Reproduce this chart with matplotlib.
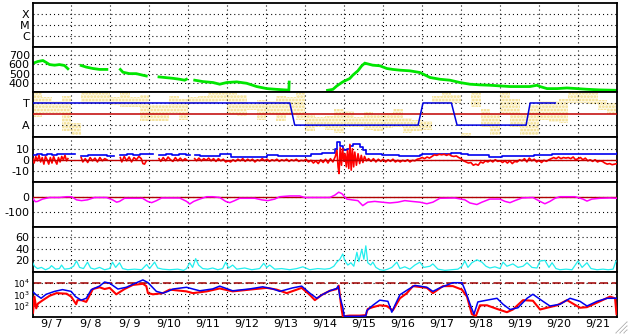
import numpy as np
import matplotlib
matplotlib.use("Agg")
import matplotlib.pyplot as plt
from matplotlib.lines import Line2D
from matplotlib.ticker import NullLocator, FixedLocator

nan = np.nan
plt.rcParams['font.family'] = ['DejaVu Sans']
plt.rcParams['lines.scale_dashes'] = False
plt.rcParams['axes.unicode_minus'] = False
plt.rcParams['hatch.linewidth'] = 1.2

# ---------------- data (time in hours from 9/7 00:00) ----------------
day_labels = ["9/ 7", "9/ 8", "9/ 9", "9/10", "9/11", "9/12", "9/13", "9/14",
              "9/15", "9/16", "9/17", "9/18", "9/19", "9/20", "9/21"]
xray_labels = ["C", "M", "X"]
sector_labels = ["A", "T"]

# solar wind speed (km/s)
speed_pts = [(0.2, 610), (3.3, 630), (6.4, 640), (8.4, 620), (10.5, 597), (13.6, 590),
             (16.6, 597), (19.7, 587), (21.8, 552), (26, nan),
             (30.0, 587), (33.1, 570), (37.2, 555), (41.3, 545), (45.8, 545), (50, nan),
             (54.1, 545), (55.7, 515), (59.8, 500), (63.9, 500), (68.0, 483), (70.1, 475), (74, nan),
             (77.9, 465), (82.4, 457), (86.5, 450), (90.6, 440), (93.7, 430), (94.8, 440), (97, nan),
             (99.9, 430), (105.0, 415), (111.2, 405), (115.3, 387), (119.6, 405), (125.8, 412),
             (131.9, 397), (138.1, 362), (144.3, 340), (150.4, 332), (156.6, 325), (157.9, 325),
             (158.1, 410), (170, nan),
             (181.7, 322), (185.0, 332), (187.4, 368), (191.1, 412), (195.4, 448), (197.3, 484),
             (200.4, 530), (202.8, 584), (204.7, 612), (209.6, 590), (213.9, 584), (218.2, 555),
             (221.9, 545), (226.3, 537), (232.4, 530), (238.6, 512), (244.8, 459), (250.9, 440),
             (257.1, 430), (263.3, 405), (269.4, 387), (275.6, 380), (281.7, 376), (287.9, 369),
             (294.1, 362), (300.2, 362), (306.4, 362), (310.7, 376), (312.6, 362), (316.9, 340),
             (323.1, 340), (329.2, 347), (335.4, 340), (341.5, 333), (349.5, 326), (360, 322)]

# sector polarity (T=1, A=-1)
sector_pts = [(0, 1), (158.5, 1), (161.5, -1), (237.5, -1), (240.5, 1), (258.0, 1),
              (261.5, -1), (304.0, -1), (306.5, 1), (322.0, 1)]

# yellow scatter band (6-hour bins): lower / upper envelope
yellow_lo = [-0.3, 0.1, 0.1, -1.5, -1.9, 0.9, 0.9, 1.0, 0.8, 0.6, 0.6, -0.6,
             -0.6, -0.6, 0.1, -0.5, 0.9, 1.0, 1.0, 1.2, 0.0, -0.2, 0.4, -0.5,
             0.0, -0.6, 0.0, -0.5, -1.5, -1.2, -1.4, -1.7, -1.2, -1.2, -1.4, -1.5,
             -1.3, -1.2, -1.7, -1.5, -1.4, 0.9, 1.0, 1.0, -2.0, 0.6, -1.2, -1.9,
             0.0, -1.2, -1.9, -1.9, -0.5, -0.7, -0.8, 1.0, 1.0, 0.9, 0.4, 0.0]
yellow_hi = [2.0, 1.5, 1.2, 1.6, -0.8, 2.0, 2.0, 1.9, 1.5, 2.0, 1.5, 1.7,
             0.8, 0.8, 1.6, 1.4, 1.5, 1.6, 1.9, 2.0, 1.9, 1.7, 0.9, 1.3,
             1.2, 1.6, 1.5, 1.9, 0.0, -0.3, -0.2, 0.5, 0.3, -0.3, 0.2, -0.1,
             0.1, 0.5, -0.4, -0.5, -0.6, 1.6, 1.9, 1.7, -1.7, 1.9, 0.5, 0.0,
             2.0, 1.4, 0.0, 0.8, 1.2, 1.2, 1.4, 2.0, 1.9, 1.9, 1.3, 1.0]

# IMF Bt (nT)
bt_pts = [(0.2, 4.5), (3, 5), (6, 4.5), (9, 5), (12, 4.5), (15, 5), (18, 5.5), (21.8, 5.5), (26, nan),
          (30, 3.5), (34, 4), (38, 4), (42, 4), (45.8, 3.5), (50, nan),
          (54.1, 4), (58, 5), (62, 4.5), (66, 5), (70.1, 5), (74, nan),
          (77.9, 4), (82, 5), (86, 4.5), (90, 5), (94.8, 4), (97, nan),
          (99.9, 4), (103, 3.2), (114, 3.2), (115.5, 5), (121, 5), (122.5, 2.6), (143, 2.6),
          (144.5, 4), (150, 4), (151, 3.2), (170, 3.2), (171.5, 5), (177, 5), (178, 6.5),
          (185, 6.5), (186.5, 10), (187.7, 16), (189.3, 13), (191.4, 8.6), (193.4, 10),
          (195.5, 13), (197.5, 14.7), (199.6, 14.7), (201.6, 11.6), (203.7, 8.6), (205.7, 5.6),
          (213.9, 5), (215, 4), (226, 3.5), (238.6, 4), (240, 5), (246.8, 5), (248, 5.6),
          (257, 5.6), (258, 6.5), (263, 6.5), (264, 5.6), (267, 5.6), (268, 4), (280, 4),
          (281, 2.6), (288, 2.6), (289, 3.5), (308, 3.5), (309, 4), (319, 4), (320, 5),
          (350, 5), (351, 5.6), (360, 6)]

# IMF Bz (nT)
bz_pts = [(0.2, 1), (1, -3), (2, 3), (3, -1), (4, 4), (5, -2), (6, 2), (7, -4), (8, 3), (9, 0),
          (10, -4), (11, 2), (12, -3), (13, 3), (14, -1), (15, -4), (16, 2), (17, -2), (18, 3),
          (19, 0), (20, 4), (21, -1), (21.8, 1), (26, nan),
          (30, 2), (31, -2), (32.5, 1), (34, -2.5), (35.5, 2), (37, -1), (38.5, 1.5), (40, -2),
          (41.5, 2), (43, -1), (44.5, 1), (45.8, 0), (50, nan),
          (54.1, 2), (55, -2), (56.5, 3), (58, -1), (59.5, 2.5), (61, -2), (62.5, 2), (64, 0),
          (65.5, 3), (67, 1), (68, -3.5), (69, -4), (70.1, -1), (74, nan),
          (77.9, 1), (79, -1.5), (80.5, 2), (82, -1), (83.5, 2.5), (85, 0), (86.5, -1.5), (88, 2),
          (89.5, -1), (91, 1.5), (92.5, -1), (94, 1), (94.8, 0), (97, nan),
          (99.9, 1), (101, -1), (102.5, 1.5), (104, -1), (105.5, 1), (107, -0.5), (108.5, 1.5),
          (110, -1), (111.5, 1), (113, -1.5), (114.5, 1), (116, -1), (117.5, 0.5), (119, -2),
          (120.5, -1), (122, -2), (123.5, 0), (125, -1.5), (126.5, 0.5), (128, -1), (129.5, 1),
          (131, -1.5), (132.5, 0.5), (134, -1), (135.5, 0.5), (137, -2), (138.5, 0), (140, -1),
          (141.5, 1), (143, -1), (144.5, 0.5), (146, -1.5), (147.5, 0), (149, -1), (150.5, 0.5),
          (152, -1.5), (153.5, 0), (155, -1), (156.5, 0.5), (158, -1.5), (159.5, 0), (161, -1),
          (162.5, 0.5), (164, -1.5), (165.5, -0.5), (167, -1), (168.5, 0.5), (170, -2),
          (171.5, -0.5), (173, -3), (174.5, -1), (176, -3.5), (177.5, 0), (179, -2.5),
          (180.5, 0.5), (182, -3), (183.5, 1), (185, -2), (186.5, 3),
          (187.5, 8.6), (188.2, -6.5), (188.8, -12.6), (189.5, 11), (190.3, -5), (191, 10),
          (191.8, -1.5), (192.5, 5.5), (193.3, -6.5), (194, 8.5), (194.8, -8), (195.5, 14),
          (196.3, -9.5), (197, 10), (197.8, -6.5), (198.5, 7), (199.5, -5), (200.5, 5.5),
          (201.5, -3.5), (202.5, 4), (203.5, -2.5), (204.5, 3), (205.7, -1),
          (207, 1), (208.5, -1.5), (210, 1), (211.5, -2), (213, 0.5), (214.5, -1.5), (216, 0.5),
          (217.5, -2), (219, 0), (220.5, -1.5), (222, 0.5), (223.5, -2), (225, -0.5), (226.5, -2),
          (228, -0.5), (229.5, -1.5), (231, 0), (232.5, -2), (234, -0.5), (235.5, -1), (237, 0.5),
          (238.5, 1), (240, 2), (241.5, 1), (243, 2.5), (244.5, 1.5), (246, 3), (247.5, 4.5),
          (249, 4), (250.5, 5), (252, 4.5), (253.5, 5), (255, 4), (256.5, 5), (258, 3.5),
          (259.5, 3), (261, 3.5), (262.5, 2), (264, 1), (265.5, -1), (267, -2), (268.5, -3),
          (270, -2.5), (271.5, -5), (273, -4), (274.5, -5), (276, -2), (277.5, -3), (279, -1),
          (280.5, -2), (282, -0.5), (283.5, -2), (285, 0), (286.5, -1.5), (288, -1), (289.5, -2.5),
          (291, -1), (292.5, -3), (294, -1), (295.5, -3.5), (297, -1.5), (298.5, -2), (300, 0),
          (301.5, -1), (303, 1), (304.5, -2), (306, 1.5), (307.5, -1), (309, 0.5), (310.5, -2),
          (312, -0.5), (313.5, -2.5), (315, -0.5), (316.5, -1.5), (318, 0), (319.5, 1), (321, 2),
          (322.5, 1), (324, 2.5), (325.5, 1), (327, 2), (328.5, 1.5), (330, 2), (331.5, 1),
          (333, 2.5), (334.5, 0), (336, 1), (337.5, 2), (339, 0), (340.5, 1.5), (342, -1),
          (343.5, 0), (345, -1.5), (346.5, 0), (348, -2), (349.5, -1), (351, -1.5), (352.5, -3),
          (354, -4), (355.5, -3.5), (357, -4.5), (358.5, -4), (360, -3.5)]

# Dst (nT)
dst_pts = [(0, -10), (1.8, -32), (3.1, -30), (6.2, -15), (10.5, -5), (16.6, -5), (21, 0), (24, 0),
           (27.1, -20), (30.2, -25), (33.9, -20), (38.2, -5), (45.6, -5), (49.3, -20), (51.8, -35),
           (53.6, -30), (56.7, -10), (67.8, -10), (70.9, -30), (73.4, -38), (76.4, -25), (79.5, -8),
           (90.6, -8), (94.9, -30), (96.8, -47), (99.3, -30), (103, -15), (107.3, 0), (111, 0),
           (115.3, -5), (119, -30), (121.5, -38), (124.5, -25), (127.6, -10), (136.9, -10),
           (141.2, -20), (144.9, -25), (149.2, -15), (152.3, 0), (158.4, 5), (164.6, 5),
           (167.7, -5), (183.1, -5), (186.2, 10), (188.6, 29), (190.5, 20), (193.6, -15),
           (196.7, -20), (200.4, -25), (203.4, -57), (206.5, -35), (210.8, -30), (215.2, -35),
           (220.1, -40), (225, -35), (229.3, -25), (233.6, -30), (238.6, -35), (242.9, -45),
           (246.6, -35), (250.9, -10), (260.2, -8), (266.3, -20), (269.4, -40), (273.7, -50),
           (276.8, -35), (281.7, -15), (287.9, -15), (291, -30), (294.1, -38), (297.1, -25),
           (301.5, -8), (308.2, -5), (312.6, -30), (315.6, -45), (318.7, -30), (321.8, -10),
           (324.9, 0), (334.1, 0), (339, -15), (341.5, -28), (344.6, -15), (349.5, -10),
           (355.7, -8), (360, -10)]

# proton density (/cc)
dens_pts = [(0, 17), (1.2, 10), (3.1, 6), (5.5, 8), (8, 4), (10.5, 7), (11.7, 11), (14.2, 5),
            (16.6, 6), (17.9, 12), (19.7, 5), (22.8, 6), (25.3, 10), (27.1, 19), (29, 8), (31.4, 6),
            (33.9, 17), (35.8, 7), (38.2, 5), (41.3, 8), (44.4, 4), (47.5, 6), (49.3, 17), (51.2, 8),
            (53.6, 16), (55.5, 6), (58.6, 4), (62.9, 5), (67.2, 4), (70.3, 13), (72.1, 6), (75.2, 17),
            (77.1, 7), (80.1, 5), (84.5, 4), (89.4, 5), (93.1, 3), (94.9, 6), (96.8, 16), (98.6, 8),
            (100.5, 23), (102.3, 12), (104.8, 6), (107.9, 5), (111, 7), (114.1, 4), (117.1, 6),
            (119, 17), (120.8, 7), (123.3, 12), (125.8, 5), (130.7, 7), (135, 4), (139.9, 6),
            (142.4, 15), (144.3, 8), (146.1, 12), (149.2, 5), (153.5, 6), (158.4, 4), (162.8, 6),
            (166.5, 9), (170.8, 4), (175.7, 6), (180, 5), (183.1, 6), (185.6, 10), (187.4, 17),
            (189.3, 22), (191.1, 31), (192.3, 20), (194.2, 12), (196.1, 16), (197.9, 10),
            (199.8, 34), (201, 18), (202.8, 39), (204.1, 22), (205.3, 45), (206.5, 16), (208.3, 12),
            (209.6, 17), (211.5, 8), (213.9, 4), (216.4, 3), (218.8, 5), (221.3, 8), (224.4, 17),
            (226.3, 6), (229.3, 9), (232.4, 5), (235.5, 12), (238.6, 17), (241, 8), (244.8, 10),
            (246.6, 14), (249.7, 5), (254, 3), (258.3, 4), (262, 5), (264.5, 10), (266.3, 19),
            (268.2, 8), (270.6, 16), (273.7, 21), (276.8, 17), (279.3, 10), (281.7, 7), (284.8, 9),
            (287.9, 6), (289.8, 17), (292.2, 10), (295.9, 14), (299, 8), (302.1, 10), (304.6, 16),
            (307.6, 8), (310.7, 7), (312.6, 19), (315.6, 20), (318.1, 8), (320, 16), (322.4, 6),
            (324.9, 4), (328.6, 5), (332.3, 4), (336, 19), (338.5, 8), (341.5, 16), (344, 6),
            (347.7, 4), (351.4, 5), (354.5, 4), (357.6, 5), (359.4, 19)]

# particle flux, log10 values (blue and red channels)
flux_blue_log = [(0, 3.25), (2.3, 2.95), (5.3, 2.66), (8.4, 3.0), (13.6, 3.25), (18.5, 3.4),
                 (23.8, 3.25), (26.5, 2.8), (30, 2.5), (33.1, 2.66), (36.2, 3.4), (41.3, 3.7),
                 (44.4, 4.05), (47.5, 3.95), (52.6, 3.45), (57.8, 3.6), (63.9, 3.98), (68, 4.23),
                 (71.1, 4.0), (76.3, 3.25), (80.3, 3.1), (83.4, 3.25), (86.5, 3.45), (94.8, 3.6),
                 (103, 3.3), (111, 3.46), (115.3, 3.7), (123.3, 3.3), (133.8, 3.46), (141.8, 3.64),
                 (148, 3.46), (152.3, 3.25), (160.3, 3.55), (165.8, 3.7), (170.8, 3.1), (175.1, 2.66),
                 (178.2, 2.95), (183.1, 3.3), (187.4, 3.5), (188.3, 3.7), (189.3, 2.8), (191.1, 1.9),
                 (192, 1.12), (195.4, 1.12), (201.6, 1.12), (205.3, 1.15), (205.9, 1.6), (209.6, 2.06),
                 (213.9, 2.5), (218.9, 2.4), (221.3, 1.47), (223.2, 2.06), (226.3, 2.96), (231.2, 3.4),
                 (235.5, 3.76), (238.6, 3.7), (242.9, 3.6), (246.6, 3.25), (250.9, 3.55), (258.9, 3.99),
                 (264.5, 3.99), (266.3, 3.4), (269.4, 2.2), (271.9, 1.3), (274.3, 2.35), (279.9, 2.5),
                 (286.1, 2.66), (289.8, 2.15), (294.1, 1.7), (299, 1.85), (304.6, 2.66), (308.2, 3.0),
                 (314.4, 2.4), (318.7, 2.0), (324.9, 2.15), (331.1, 2.66), (337.2, 2.4), (341.5, 2.0),
                 (347.7, 2.4), (353.9, 2.66), (360, 2.66)]
flux_red_log = [(0, 2.6), (0.3, 1.4), (1.2, 2.8), (2.3, 1.8), (3.3, 2.2), (6.4, 2.5), (10.5, 2.87),
                (14.8, 3.1), (21, 3.05), (23.8, 2.8), (26.9, 2.15), (27.7, 2.5), (30, 2.5), (33.1, 2.35),
                (37.2, 3.45), (41.3, 3.6), (44.4, 3.45), (47.5, 3.55), (51.6, 3.0), (56.7, 3.45),
                (61.8, 3.8), (68, 3.9), (70.1, 3.7), (71.1, 3.1), (74.2, 3.0), (80.3, 3.1), (84.5, 3.4),
                (94.8, 3.25), (98.8, 3.1), (107.3, 3.25), (115.3, 3.5), (123.3, 3.25), (133.8, 3.4),
                (144.3, 3.55), (150.4, 3.4), (156.6, 3.1), (162.8, 3.4), (165.8, 3.55), (170.8, 2.95),
                (173.9, 2.5), (178.2, 2.95), (183.1, 3.3), (187.4, 3.45), (188.6, 3.75), (190.2, 1.9),
                (191.1, 1.12), (195.4, 1.18), (201.6, 1.18), (205.3, 1.22), (206.5, 1.75), (209.6, 1.9),
                (213.9, 2.06), (218.2, 2.0), (221.9, 1.62), (226.3, 2.66), (230.6, 3.1), (234.3, 3.7),
                (242.9, 3.55), (246.6, 3.1), (252.8, 3.7), (258.9, 3.7), (264.5, 3.4), (267.6, 2.8),
                (270.6, 1.3), (273.1, 1.15), (275.6, 2.06), (279.9, 2.06), (286.1, 1.75), (292.2, 1.47),
                (295.9, 1.7), (302.1, 2.5), (308.2, 2.45), (312.6, 1.7), (316.9, 1.85), (323.1, 2.06),
                (329.2, 2.5), (337.2, 1.85), (341.5, 1.9), (349.5, 2.4), (355.7, 2.8), (358.8, 2.66),
                (359.7, 1.3)]


def unzip(pts):
    a = np.array(pts, dtype=float)
    return a[:, 0], a[:, 1]


# ---------------- figure layout ----------------
W, H = 628, 334
fig = plt.figure(figsize=(W / 100, H / 100), dpi=100)
left, right = 32.5, 617.0
top, bottom = 2.5, 317.0
ph = (bottom - top) / 7
axes = []
for i in range(7):
    y_top = top + i * ph
    ax = fig.add_axes([left / W, 1 - (y_top + ph) / H, (right - left) / W, ph / H])
    axes.append(ax)

FS = 8.0
dot = (0, (0.75, 2.2))
day_edges = np.arange(24, 360, 24)
noon = np.arange(12, 360, 24)

for i, ax in enumerate(axes):
    ax.set_xlim(0, 360)
    ax.xaxis.set_major_locator(FixedLocator(day_edges))
    ax.xaxis.set_minor_locator(FixedLocator(noon))
    ax.tick_params(axis='both', which='both', length=0, labelsize=FS, pad=2.0)
    ax.tick_params(axis='x', which='major', labelbottom=False)
    if i == 6:
        ax.set_xticklabels(day_labels, minor=True)
        ax.tick_params(axis='x', which='minor', pad=1.5)
    else:
        ax.tick_params(axis='x', which='minor', labelbottom=False)
    ax.grid(True, which='major', axis='both', color='black', linestyle=dot, linewidth=0.8)
    ax.set_axisbelow(True)
    for s in ax.spines.values():
        s.set_linewidth(1.3)
        s.set_color('black')

# panel 1: X-ray class (empty)
ax = axes[0]
ax.set_ylim(0, 4)
ax.set_yticks([1, 2, 3])
ax.set_yticklabels(xray_labels)

# panel 2: speed
ax = axes[1]
t, v = unzip(speed_pts)
ax.plot(t, v, color='#00E600', lw=2.0, solid_joinstyle='miter')
ax.set_ylim(300, 780)
ax.set_yticks([400, 500, 600, 700])

# panel 3: sector
ax = axes[2]
edges = np.arange(0, 361, 6)
lo = np.append(yellow_lo, yellow_lo[-1])
hi = np.append(yellow_hi, yellow_hi[-1])
ax.fill_between(edges, lo, hi, step='post', facecolor='#FDF7E2', edgecolor='#F3DD85',
                hatch='.....', lw=0, zorder=0.5)
ax.axhline(0, color='#C00000', lw=1.1, zorder=3)
t, v = unzip(sector_pts)
ax.plot(t, v, color='#0000E0', lw=1.1, zorder=4)
ax.set_ylim(-2.1, 1.96)
ax.set_yticks([-1, 1])
ax.set_yticklabels(sector_labels)

# panel 4: Bt / Bz
ax = axes[3]
t, v = unzip(bt_pts)
ax.plot(t, v, color='#0000F0', lw=1.2, drawstyle='steps-post', zorder=3)
t, v = unzip(bz_pts)
ax.plot(t, v, color='#FF0000', lw=1.2, zorder=4)
ax.axhline(0, color='#C00000', lw=1.0, zorder=5)
ax.set_ylim(-20.5, 20.5)
ax.set_yticks([-10, 0, 10])

# panel 5: Dst
ax = axes[4]
ax.axhline(0, color='#B00000', lw=1.0, zorder=3)
t, v = unzip(dst_pts)
ax.plot(t, v, color='#FF00FF', lw=1.1, zorder=4)
ax.set_ylim(-195, 93)
ax.set_yticks([-100, 0])

# panel 6: density
ax = axes[5]
t, v = unzip(dens_pts)
ax.plot(t, v, color='#22EEEE', lw=0.9, zorder=3)
ax.set_ylim(0, 77)
ax.set_yticks([20, 40, 60])

# panel 7: particle flux (log)
ax = axes[6]
ax.set_yscale('log')
ax.axhline(1e4, color='#A00000', lw=1.1, linestyle=(0, (6, 2.5)), zorder=2)
t, v = unzip(flux_red_log)
ax.plot(t, 10 ** v, color='#FF0000', lw=1.5, zorder=3)
t, v = unzip(flux_blue_log)
ax.plot(t, 10 ** v, color='#0000F0', lw=1.1, zorder=4)
ax.set_ylim(10 ** 1.06, 10 ** 4.9)
ax.yaxis.set_major_locator(FixedLocator([1e2, 1e3, 1e4]))
ax.yaxis.set_minor_locator(NullLocator())
ax.set_yticklabels([r'$10^{2}$', r'$10^{3}$', r'$10^{4}$'])
ax.tick_params(axis='y', labelsize=6.5)
ax.grid(True, which='major', axis='both', color='black', linestyle=dot, linewidth=0.8)

# resize grip in the corner
for k, c in [(0, '#A0A0A0'), (1, '#FFFFFF'), (4, '#A0A0A0'), (5, '#FFFFFF'), (8, '#A0A0A0'), (9, '#FFFFFF')]:
    n = 11 - k
    fig.add_artist(Line2D([(627 - n) / W, 627 / W], [1 - 333 / H, 1 - (333 - n) / H],
                          color=c, lw=0.7))

fig.savefig('out.png', dpi=100)
